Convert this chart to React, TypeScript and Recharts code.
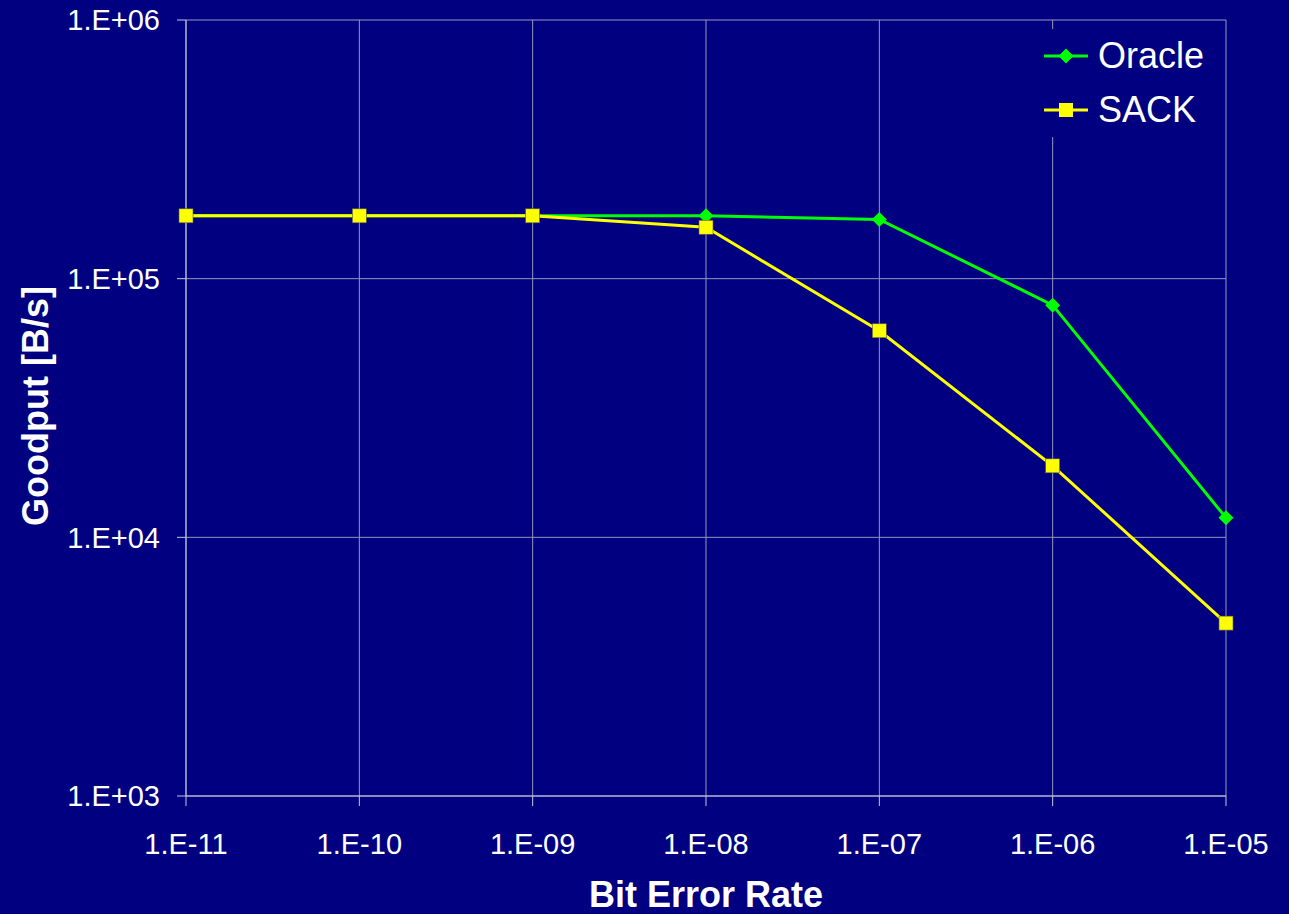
import React from 'react';
import { LineChart, Line, XAxis, YAxis, CartesianGrid } from 'recharts';

const berValues = [1e-11, 1e-10, 1e-9, 1e-8, 1e-7, 1e-6, 1e-5];
const oracleGoodput = [175000, 175000, 175000, 175000, 169500, 79000, 11900];
const sackGoodput = [175000, 175000, 175000, 158000, 62900, 18900, 4660];
const yTicks = [1e3, 1e4, 1e5, 1e6];

const data = berValues.map((ber, i) => ({
  ber,
  oracle: oracleGoodput[i],
  sack: sackGoodput[i],
}));

const NAVY = '#000080';
const GRID = '#9696c0';
const AXIS = '#c8c8dc';
const FONT = '"Liberation Sans", Arial, sans-serif';

const sci = (v: number) => {
  const e = Math.round(Math.log10(v));
  return `1.E${e < 0 ? '-' : '+'}${String(Math.abs(e)).padStart(2, '0')}`;
};

const Diamond = (props: any) => {
  const { cx, cy, index } = props;
  if (cx == null || cy == null) return <g key={`d-${index}`} />;
  return <path key={`d-${index}`} d={`M${cx},${cy - 7.5}L${cx + 7.5},${cy}L${cx},${cy + 7.5}L${cx - 7.5},${cy}Z`} fill="#00ff00" />;
};

const Square = (props: any) => {
  const { cx, cy, index } = props;
  if (cx == null || cy == null) return <g key={`s-${index}`} />;
  return <rect key={`s-${index}`} x={cx - 7} y={cy - 7} width={14} height={14} fill="#ffff00" stroke="#5a5a40" strokeWidth={0.6} />;
};

const legendItems = [
  { name: 'Oracle', color: '#00ff00', shape: 'diamond' },
  { name: 'SACK', color: '#ffff00', shape: 'square' },
];

// legend sits over the grid with a navy box, like the original
const LegendBox = () => (
  <div
    style={{
      position: 'absolute',
      left: 1036,
      top: 29,
      background: NAVY,
      padding: '0 10px 0 8px',
      fontFamily: FONT,
    }}
  >
    {legendItems.map((it) => (
      <div key={it.name} style={{ display: 'flex', alignItems: 'center', height: 54 }}>
        <svg width={46} height={20} style={{ marginRight: 8 }}>
          <line x1={0} y1={10} x2={44} y2={10} stroke={it.color} strokeWidth={3} />
          {it.shape === 'diamond' ? (
            <path d="M22,2.5L29.5,10L22,17.5L14.5,10Z" fill={it.color} />
          ) : (
            <rect x={15} y={3} width={14} height={14} fill={it.color} />
          )}
        </svg>
        <span style={{ color: '#ffffff', fontSize: 36, lineHeight: '36px' }}>{it.name}</span>
      </div>
    ))}
  </div>
);

const YTitle = () => (
  <text
    x={35}
    y={406}
    transform="rotate(-90 35 406)"
    textAnchor="middle"
    dominantBaseline="central"
    fill="#ffffff"
    fontFamily={FONT}
    fontWeight="bold"
    fontSize={36}
  >
    Goodput [B/s]
  </text>
);

export default function App() {
  return (
    <div style={{ position: 'absolute', left: 0, top: 0, width: 1289, height: 914, background: NAVY, overflow: 'hidden' }}>
      <LineChart width={1289} height={914} data={data} margin={{ top: 20, right: 63, bottom: 0, left: 0 }}>
        <CartesianGrid stroke={GRID} strokeWidth={1} />
        <XAxis
          dataKey="ber"
          type="number"
          scale="log"
          domain={[1e-11, 1e-5]}
          ticks={berValues}
          tickFormatter={sci}
          height={118}
          stroke={AXIS}
          tickSize={10}
          tickMargin={27}
          tick={{ fill: '#ffffff', fontSize: 29, fontFamily: FONT }}
          label={{
            value: 'Bit Error Rate',
            position: 'insideBottom',
            offset: 7,
            fill: '#ffffff',
            fontSize: 36,
            fontWeight: 'bold',
            fontFamily: FONT,
          }}
        />
        <YAxis
          type="number"
          scale="log"
          domain={[1e3, 1e6]}
          ticks={yTicks}
          tickFormatter={sci}
          width={186}
          stroke={AXIS}
          tickSize={9}
          tickMargin={17}
          tick={{ fill: '#ffffff', fontSize: 29, fontFamily: FONT }}
          label={<YTitle />}
        />
        <Line
          dataKey="oracle"
          name="Oracle"
          stroke="#00ff00"
          strokeWidth={3}
          dot={Diamond}
          isAnimationActive={false}
        />
        <Line
          dataKey="sack"
          name="SACK"
          stroke="#ffff00"
          strokeWidth={3}
          dot={Square}
          isAnimationActive={false}
        />
      </LineChart>
      <LegendBox />
    </div>
  );
}
